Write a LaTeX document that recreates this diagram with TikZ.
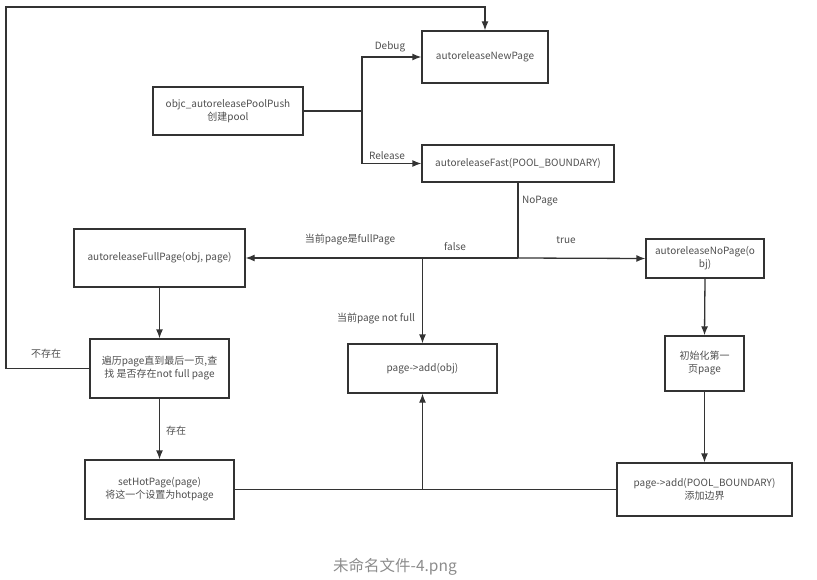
\documentclass[tikz,border=0pt]{standalone}
\usepackage{fontspec}
\setmainfont{Noto Sans CJK SC}
\usetikzlibrary{arrows.meta}
\definecolor{ink}{HTML}{333333}
\definecolor{txt}{HTML}{4F4F4F}
\begin{document}
\begin{tikzpicture}[x=1pt, y=-1pt, >={Latex[length=9pt,width=7pt]},
    box/.style={draw=ink, line width=1.3pt, text=txt, font=\fontsize{10}{13}\selectfont,
        align=center, inner sep=2pt},
    link/.style={draw=ink, line width=1.3pt},
    lbl/.style={text=txt, font=\fontsize{10}{13}\selectfont, inner sep=0pt}]
    \useasboundingbox (0,0) rectangle (817,580);

    \node[box, minimum width=150pt, minimum height=48pt] (push) at (228,111)
        {objc\_autoreleasePoolPush\\创建pool};
    \node[box, minimum width=126pt, minimum height=52pt] (newpage) at (485,57) {autoreleaseNewPage};
    \node[box, minimum width=192pt, minimum height=37pt] (fast) at (518,163.5) {autoreleaseFast(POOL\_BOUNDARY)};
    \node[box, minimum width=171pt, minimum height=58pt] (fullpage) at (159.5,258) {autoreleaseFullPage(obj, page)};
    \node[box, minimum width=139pt, minimum height=59pt] (search) at (159.5,368.5)
        {遍历page直到最后一页,查\\找 是否存在not full page};
    \node[box, minimum width=149pt, minimum height=59pt] (sethot) at (159.5,489.5)
        {setHotPage(page)\\将这一个设置为hotpage};
    \node[box, minimum width=149pt, minimum height=49pt] (addobj) at (422.5,368.5) {page-\textgreater add(obj)};
    \node[box, minimum width=118pt, minimum height=39pt] (nopage) at (705,258.5) {autoreleaseNoPage(o\\bj)};
    \node[box, minimum width=79pt, minimum height=55pt] (init) at (704.5,363.5) {初始化第一\\页page};
    \node[box, minimum width=175pt, minimum height=53pt] (boundary) at (704.5,489.5)
        {page-\textgreater add(POOL\_BOUNDARY)\\添加边界};

    \coordinate (split) at (362,111);
    \coordinate (fork) at (518,258);
    \coordinate (loopbl) at (6,368.5);
    \coordinate (looptl) at (6,7);

    % push -> debug / release
    \draw[link] (push.east) -- (split);
    \draw[link, ->] (split) |- (newpage.west);
    \draw[link, ->] (split) |- (fast.west);
    \node[lbl] (debug) at (390,47) {Debug};
    \node[lbl] (release) at (387,156) {Release};

    % fast -> full / no page
    \draw[link] (fast.south) -- (fork);
    \draw[link, ->] (fork) -- (fullpage.east);
    \draw[link, ->] (fork) -- (nopage.west);
    \draw[link, ->] (addobj.north |- fork) -- (addobj.north);
    \node[lbl, anchor=west] (nopagelbl) at (522,201) {NoPage};
    \node[lbl] (truelbl) at (566,240) {true};
    \node[lbl] (falselbl) at (455,247) {false};
    \node[lbl] (isfull) at (350,240) {当前page是fullPage};
    \node[lbl] (notfull) at (376,319) {当前page not full};

    % full page branch
    \draw[link, ->] (fullpage.south) -- (search.north);
    \draw[link, ->] (search.south) -- (sethot.north);
    \node[lbl] (found) at (176,431) {存在};
    \draw[link, ->] (search.west) -- (loopbl) -- (looptl) -- (newpage.north |- looptl) -- (newpage.north);
    \node[lbl] (notfound) at (46,354) {不存在};

    % no page branch
    \draw[link, ->] (nopage.south) -- (init.north);
    \draw[link, ->] (init.south) -- (boundary.north);
    \draw[link] (sethot.east) -- (boundary.west);
    \draw[link, ->] (addobj.south |- sethot.east) -- (addobj.south);

    \node[text=gray!90, font=\fontsize{15.5}{18}\selectfont] (caption) at (395,567) {未命名文件-4.png};
\end{tikzpicture}
\end{document}
